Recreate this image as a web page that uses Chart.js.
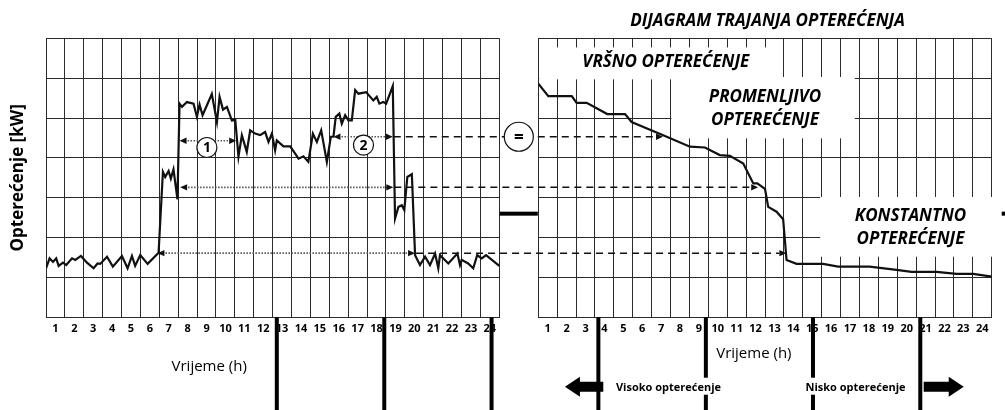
<!DOCTYPE html>
<html lang="sr">
<head>
    <meta charset="UTF-8">
    <title>Dijagram trajanja opterećenja</title>
    <style>
        body, html {
            margin: 0;
            padding: 0;
            background: #fff;
            overflow: hidden;
        }
        #wrap {
            position: relative;
            width: 1005px;
            height: 410px;
        }
        #leftChart { position: absolute; left: 0; top: 0; }
        #rightChart { position: absolute; left: 520px; top: 0; }
        #overlay { position: absolute; left: 0; top: 0; pointer-events: none; }
    </style>
</head>
<body>

<div id="wrap">
    <canvas id="leftChart" width="520" height="410"></canvas>
    <canvas id="rightChart" width="485" height="410"></canvas>
    <canvas id="overlay" width="1005" height="410"></canvas>
</div>

<script src="https://cdn.jsdelivr.net/npm/chart.js"></script>
<script>
    const hourLabels = ['1', '2', '3', '4', '5', '6', '7', '8', '9', '10', '11', '12',
                        '13', '14', '15', '16', '17', '18', '19', '20', '21', '22', '23', '24'];

    // dnevni dijagram opterecenja (vrijeme u h, opterecenje u podjelama mreze)
    const loadHours = [0, 0.19, 0.37, 0.54, 0.67, 0.90, 1.07, 1.38, 1.55, 1.85,
                       2.17, 2.52, 2.73, 2.87, 3.23, 3.54, 4.02, 4.32, 4.55, 4.72,
                       4.99, 5.38, 5.96, 6.19, 6.31, 6.49, 6.61, 6.75, 6.96, 7.07,
                       7.20, 7.46, 7.81, 7.99, 8.13, 8.29, 8.78, 8.92, 9.05, 9.19,
                       9.37, 9.58, 9.84, 10.02, 10.19, 10.37, 10.63, 10.81, 11.07, 11.34,
                       11.60, 11.78, 11.96, 12.13, 12.22, 12.57, 12.93, 13.37, 13.63, 13.89,
                       14.13, 14.34, 14.57, 14.87, 15.08, 15.22, 15.34, 15.53, 15.66, 15.84,
                       16.01, 16.19, 16.37, 16.54, 16.95, 17.33, 17.51, 17.65, 17.86, 18.01,
                       18.36, 18.48, 18.66, 18.84, 18.97, 19.13, 19.37, 19.54, 19.80, 20.07,
                       20.33, 20.60, 20.77, 20.86, 21.30, 21.78, 21.92, 22.01, 22.35, 22.62,
                       22.83, 23.07, 23.30, 23.51, 24];
    const loadValues = [1.23, 1.48, 1.39, 1.48, 1.29, 1.37, 1.31, 1.48, 1.44, 1.54,
                        1.37, 1.23, 1.35, 1.34, 1.52, 1.27, 1.54, 1.23, 1.54, 1.29,
                        1.56, 1.34, 1.62, 3.65, 3.52, 3.67, 3.48, 3.71, 2.96, 5.36,
                        5.28, 5.40, 5.36, 5.03, 5.34, 5.07, 5.60, 5.24, 4.90, 5.53,
                        5.21, 5.28, 4.94, 4.96, 4.03, 4.57, 4.15, 4.69, 4.61, 4.57,
                        4.65, 4.40, 4.61, 4.19, 4.44, 4.29, 4.29, 3.98, 4.04, 3.90,
                        4.61, 4.40, 4.69, 3.90, 4.53, 4.53, 5.03, 5.11, 4.86, 5.07,
                        4.94, 4.94, 5.70, 5.61, 5.65, 5.44, 5.53, 5.36, 5.40, 5.36,
                        5.80, 2.48, 2.77, 2.81, 2.69, 3.52, 3.59, 1.56, 1.31, 1.52,
                        1.31, 1.60, 1.23, 1.56, 1.35, 1.60, 1.31, 1.44, 1.35, 1.23,
                        1.56, 1.48, 1.56, 1.48, 1.29];

    // dijagram trajanja opterecenja
    const durationHours = [0, 0.53, 1.77, 2.03, 2.56, 3.65, 4.59, 4.94, 6.61, 8.03,
                           8.82, 9.61, 10.14, 10.85, 11.38, 11.59, 12.0, 12.17, 12.61, 12.96,
                           13.14, 13.67, 15.08, 15.87, 17.54, 18.96, 19.76, 21.08, 22.14, 23.02, 24];
    const durationValues = [5.86, 5.55, 5.55, 5.38, 5.38, 5.10, 5.10, 4.90, 4.57, 4.28,
                            4.26, 4.07, 4.05, 3.86, 3.36, 3.36, 3.22, 2.77, 2.65, 2.46,
                            1.44, 1.34, 1.34, 1.27, 1.27, 1.19, 1.14, 1.14, 1.09, 1.09, 1.02];

    // nivoi prenosa na dijagram trajanja: nivo, pocetak i kraj strelice lijevo, cilj desno
    const levelValues = [4.53, 3.26, 1.61];
    const levelStartHours = [15.22, 7.10, 5.90];
    const levelEndHours = [18.36, 18.39, 19.54];
    const levelTargetHours = [6.60, 11.64, 13.13];

    // strelica (1) na prvom vrhu
    const firstPeakArrow = { from: 7.07, to: 10.07, value: 4.43 };
    const markerLabels = ['1', '2'];
    const markerHours = [8.52, 16.81];
    const markerValues = [4.26, 4.32];

    // debele podjele ispod osa
    const leftDividers = [12.22, 17.91, 23.59];
    const rightDividers = [3.18, 8.87, 14.54, 20.22];

    const zones = [
        { lines: ['VRŠNO OPTEREĆENJE'], box: [0.05, 12.5, 5.97, 6.77], at: [6.75, 67] },
        { lines: ['PROMENLJIVO', 'OPTEREĆENJE'], box: [7.05, 16.75, 4.49, 6.03], at: [12.0, 101.5] },
        { lines: ['KONSTANTNO', 'OPTEREĆENJE'], box: [14.92, 24.4, 1.52, 3.02], at: [19.7, 220.5] }
    ];

    const GRID = '#2b2b2b';
    Chart.defaults.font.family = "'Open Sans', sans-serif";
    Chart.defaults.color = '#000';

    function toPoints(xs, ys) {
        return xs.map((x, i) => ({ x: x, y: ys[i] }));
    }

    function halfHourTicks(scale) {
        const ticks = [];
        for (let v = 0; v <= 24; v += 0.5) ticks.push({ value: v });
        scale.ticks = ticks;
    }

    function xAxis() {
        return {
            type: 'linear',
            min: 0,
            max: 24,
            afterBuildTicks: halfHourTicks,
            afterFit: function(scale) { scale.height = 92.7; },
            grid: {
                color: ctx => (ctx.tick && ctx.tick.value % 1 === 0) ? GRID : 'rgba(0,0,0,0)',
                lineWidth: 1,
                drawTicks: false
            },
            border: { color: GRID },
            ticks: {
                autoSkip: false,
                maxRotation: 0,
                padding: 5,
                font: { size: 11, weight: 'bold' },
                callback: function(value) {
                    return value % 1 === 0.5 ? hourLabels[value - 0.5] : '';
                }
            }
        };
    }

    function yAxis(width, title) {
        return {
            min: 0,
            max: 7,
            afterFit: function(scale) { scale.width = width; },
            grid: { color: GRID, lineWidth: 1, drawTicks: false },
            border: { color: GRID },
            ticks: { display: false, stepSize: 1 },
            title: title
        };
    }

    function lineDataset(xs, ys) {
        return {
            data: toPoints(xs, ys),
            borderColor: '#111',
            borderWidth: 2.2,
            pointRadius: 0,
            tension: 0,
            fill: false
        };
    }

    function textBaseline(ctx, text, x, y, font, align) {
        ctx.font = font;
        ctx.textAlign = align || 'center';
        ctx.textBaseline = 'alphabetic';
        ctx.fillStyle = '#000';
        ctx.fillText(text, x, y);
    }

    const leftChart = new Chart(document.getElementById('leftChart'), {
        type: 'line',
        data: { datasets: [lineDataset(loadHours, loadValues)] },
        options: {
            responsive: false,
            animation: false,
            layout: { padding: { left: 0, top: 38.3, right: 20.7, bottom: 0 } },
            plugins: { legend: { display: false }, tooltip: { enabled: false } },
            scales: {
                x: xAxis(),
                y: yAxis(46, {
                    display: true,
                    text: 'Opterećenje [kW]',
                    font: { size: 17, weight: 'bold' },
                    padding: { top: 8, bottom: 0 }
                })
            }
        },
        plugins: [{
            id: 'leftTexts',
            afterDraw(chart) {
                const ctx = chart.ctx;
                const x = chart.scales.x;
                textBaseline(ctx, 'Vrijeme (h)', x.getPixelForValue(8.64), 370.5, "15px 'Open Sans'");
            }
        }]
    });

    const rightChart = new Chart(document.getElementById('rightChart'), {
        type: 'line',
        data: { datasets: [lineDataset(durationHours, durationValues)] },
        options: {
            responsive: false,
            animation: false,
            layout: { padding: { left: 18.3, top: 38.3, right: 13.3, bottom: 0 } },
            plugins: { legend: { display: false }, tooltip: { enabled: false } },
            scales: {
                x: xAxis(),
                y: yAxis(0, { display: false })
            }
        },
        plugins: [{
            id: 'zones',
            beforeDatasetsDraw(chart) {
                const ctx = chart.ctx;
                const sx = chart.scales.x, sy = chart.scales.y;
                ctx.save();
                ctx.fillStyle = '#fff';
                zones.forEach(z => {
                    const [x0, x1, y0, y1] = z.box;
                    const px0 = sx.getPixelForValue(x0), px1 = sx.getPixelForValue(x1);
                    const py0 = sy.getPixelForValue(y1), py1 = sy.getPixelForValue(y0);
                    ctx.fillRect(px0, py0, px1 - px0, py1 - py0);
                });
                ctx.restore();
            },
            afterDraw(chart) {
                const ctx = chart.ctx;
                const sx = chart.scales.x;
                const area = chart.chartArea;
                ctx.save();
                zones.forEach(z => {
                    z.lines.forEach((line, i) => {
                        textBaseline(ctx, line, sx.getPixelForValue(z.at[0]), z.at[1] + i * 23.5,
                                     "italic bold 17px 'Open Sans'");
                    });
                });
                textBaseline(ctx, 'DIJAGRAM TRAJANJA OPTEREĆENJA', (area.left + area.right) / 2 + 2.5, 26,
                             "italic bold 17px 'Open Sans'");
                textBaseline(ctx, 'Vrijeme (h)', sx.getPixelForValue(11.41), 357.5, "15px 'Open Sans'");
                ctx.restore();
            }
        }]
    });

    // overlay: strelice, krugovi i podjele preko oba dijagrama
    const ov = document.getElementById('overlay').getContext('2d');
    const rightOffset = 520;

    function lx(h) { return leftChart.scales.x.getPixelForValue(h); }
    function rx(h) { return rightOffset + rightChart.scales.x.getPixelForValue(h); }
    function py(v) { return leftChart.scales.y.getPixelForValue(v); }

    function arrowHead(x, y, dir) {
        ov.beginPath();
        ov.moveTo(x, y);
        ov.lineTo(x - dir * 7, y - 3.2);
        ov.lineTo(x - dir * 7, y + 3.2);
        ov.closePath();
        ov.fill();
    }

    function dottedArrow(x1, x2, y) {
        ov.save();
        ov.strokeStyle = '#555';
        ov.fillStyle = '#111';
        ov.lineWidth = 1.6;
        ov.setLineDash([1.5, 1.5]);
        ov.beginPath();
        ov.moveTo(x1 + 5, y);
        ov.lineTo(x2 - 5, y);
        ov.stroke();
        ov.setLineDash([]);
        arrowHead(x1, y, -1);
        arrowHead(x2, y, 1);
        ov.restore();
    }

    function circleLabel(x, y, r, text, size) {
        ov.save();
        ov.fillStyle = '#fff';
        ov.strokeStyle = '#111';
        ov.lineWidth = 1.2;
        ov.beginPath();
        ov.arc(x, y, r, 0, Math.PI * 2);
        ov.fill();
        ov.stroke();
        ov.fillStyle = '#000';
        ov.font = "bold " + size + "px 'Open Sans'";
        ov.textAlign = 'center';
        ov.textBaseline = 'middle';
        ov.fillText(text, x, y + 1);
        ov.restore();
    }

    // dotted arrows and dashed transfer lines
    dottedArrow(lx(firstPeakArrow.from), lx(firstPeakArrow.to), py(firstPeakArrow.value));
    levelValues.forEach((v, i) => {
        const y = py(v);
        dottedArrow(lx(levelStartHours[i]), lx(levelEndHours[i]), y);
        ov.save();
        ov.strokeStyle = '#111';
        ov.fillStyle = '#111';
        ov.lineWidth = 1.5;
        ov.setLineDash([7, 5]);
        ov.beginPath();
        ov.moveTo(lx(levelEndHours[i]) + 1, y);
        ov.lineTo(rx(levelTargetHours[i]) - 7, y);
        ov.stroke();
        ov.setLineDash([]);
        arrowHead(rx(levelTargetHours[i]), y, 1);
        ov.restore();
    });

    markerLabels.forEach((m, i) => circleLabel(lx(markerHours[i]), py(markerValues[i]), 10, m, 14));
    circleLabel((lx(24) + rx(0)) / 2, py(levelValues[0]), 14.5, '=', 17);

    // thick bar between the two diagrams
    ov.fillStyle = '#000';
    const barY = py(2.6);
    ov.fillRect(lx(24) + 0.5, barY - 2, rx(0) - lx(24) - 1, 4);
    ov.fillRect(rx(24) + 10, barY - 2, 20, 4);

    // thick dividers below the axes
    const axisBottom = leftChart.chartArea.bottom;
    leftDividers.forEach(h => ov.fillRect(lx(h) - 2, axisBottom, 4, 410 - axisBottom));
    rightDividers.forEach(h => ov.fillRect(rx(h) - 2, axisBottom, 4, 410 - axisBottom));

    // visoko / nisko opterecenje
    const noteY = 386.7;
    ov.font = "bold 11px 'Open Sans'";
    ov.textAlign = 'center';
    ov.textBaseline = 'alphabetic';
    [['Visoko opterećenje', 6.89], ['Nisko opterećenje', 16.79]].forEach(([t, h]) => {
        const w = ov.measureText(t).width;
        ov.fillStyle = '#fff';
        ov.fillRect(rx(h) - w / 2 - 3, noteY - 9, w + 6, 17);
        ov.fillStyle = '#000';
        ov.fillText(t, rx(h), noteY + 4);
    });

    function bigArrow(tip, tail, dir) {
        const y = noteY;
        const head = tip + dir * 15;
        ov.beginPath();
        ov.moveTo(tip, y);
        ov.lineTo(head, y - 10);
        ov.lineTo(head, y - 5);
        ov.lineTo(tail, y - 5);
        ov.lineTo(tail, y + 5);
        ov.lineTo(head, y + 5);
        ov.lineTo(head, y + 10);
        ov.closePath();
        ov.fill();
    }
    ov.fillStyle = '#000';
    bigArrow(rx(1.41), rx(3.44), 1);
    bigArrow(rx(22.52), rx(20.4), -1);
</script>

</body>
</html>
